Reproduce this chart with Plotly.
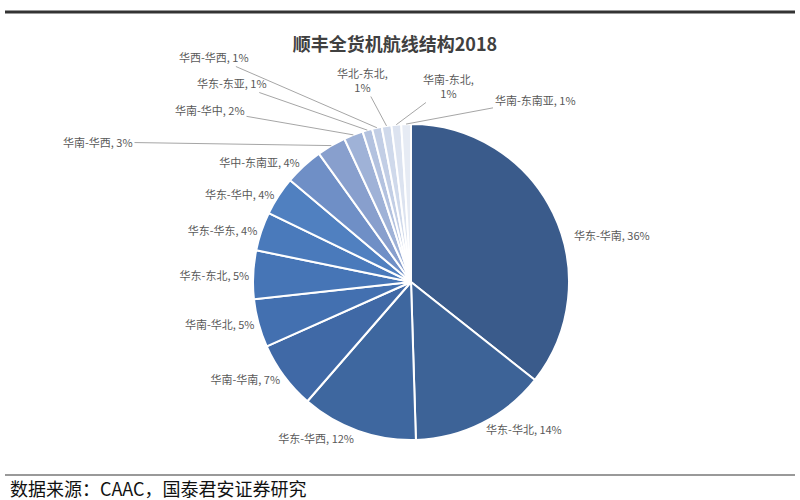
import math
import plotly.graph_objects as go

# 2018 SF freighter route structure
routes = ["华东-华南", "华东-华北", "华东-华西", "华南-华南", "华南-华北", "华东-东北",
          "华东-华东", "华东-华中", "华中-东南亚", "华南-华西", "华南-华中", "华东-东亚",
          "华西-华西", "华北-东北", "华南-东北", "华南-东南亚"]
share = [36, 14, 12, 7, 5, 5, 4, 4, 4, 3, 2, 1, 1, 1, 1, 1]

colors = ["#3a5b8b", "#3d6397", "#3e679f", "#4069a6", "#4370b0", "#4675b6",
          "#4a7abb", "#5080c0", "#6f8fc6", "#889fcd", "#9fb2d7", "#b3c2df",
          "#c2cee5", "#cfd9eb", "#dce3f0", "#e6ebf4"]

W, H = 800, 500
CX, CY, R = 411, 282, 158  # pie centre / radius in pixels

# labels drawn as annotations (index -> label centre in px, leader line or not)
label_pos = {
    0: (612, 235, False),
    9: (98, 142, True),
    10: (210, 110, True),
    11: (232, 83, True),
    12: (214, 57, True),
    13: (362, 80, True),
    14: (448, 86, True),
    15: (535, 100, True),
}
two_line = {13, 14}

texts = ["" if i in label_pos else f"{routes[i]}, {share[i]}%" for i in range(len(routes))]

fig = go.Figure(go.Pie(
    labels=routes,
    values=share,
    text=texts,
    sort=False,
    direction="clockwise",
    rotation=0,
    marker=dict(colors=colors, line=dict(color="white", width=2)),
    textposition="outside",
    texttemplate="%{text}",
    textfont=dict(family="Noto Sans CJK SC", size=11, color="#595959"),
    hoverinfo="label+percent",
    showlegend=False,
    domain=dict(x=[(CX - R) / W, (CX + R) / W], y=[(H - CY - R) / H, (H - CY + R) / H]),
))

total = sum(share)
annotations = []
cum = 0
for i, v in enumerate(share):
    mid = 2 * math.pi * (cum + v / 2) / total
    cum += v
    if i not in label_pos:
        continue
    lx, ly, leader = label_pos[i]
    sep = ",<br>" if i in two_line else ", "
    txt = f"{routes[i]}{sep}{v}%"
    font = dict(family="Noto Sans CJK SC", size=11, color="#595959")
    if leader:
        tx = CX + R * math.sin(mid)
        ty = CY - R * math.cos(mid)
        annotations.append(dict(
            text=txt, xref="paper", yref="paper", x=tx / W, y=1 - ty / H,
            ax=lx - tx, ay=ly - ty, showarrow=True, arrowhead=0, arrowwidth=1,
            arrowcolor="#a6a6a6", align="center", font=font))
    else:
        annotations.append(dict(
            text=txt, xref="paper", yref="paper", x=lx / W, y=1 - ly / H,
            xanchor="center", yanchor="middle", showarrow=False, font=font))

annotations.append(dict(
    text="数据来源：CAAC，国泰君安证券研究", xref="paper", yref="paper",
    x=8 / W, y=1 - 488 / H, xanchor="left", yanchor="middle", showarrow=False,
    font=dict(family="Noto Sans CJK SC", size=18, color="#111111")))

fig.update_layout(
    width=W, height=H,
    margin=dict(l=0, r=0, t=0, b=0),
    paper_bgcolor="white",
    title=dict(text="<b>顺丰全货机航线结构2018</b>", x=395 / W, xanchor="center",
               y=1 - 45 / H, yanchor="middle",
               font=dict(family="Noto Sans CJK SC", size=18, color="#404040")),
    shapes=[
        dict(type="line", xref="paper", yref="paper", x0=5 / W, x1=795 / W,
             y0=1 - 12 / H, y1=1 - 12 / H, line=dict(color="#333333", width=3)),
        dict(type="line", xref="paper", yref="paper", x0=5 / W, x1=795 / W,
             y0=1 - 475 / H, y1=1 - 475 / H, line=dict(color="#999999", width=2)),
    ],
    annotations=annotations,
)

fig.write_html("out.html", config={"displayModeBar": False},
               post_script="document.body.style.margin='0';")
